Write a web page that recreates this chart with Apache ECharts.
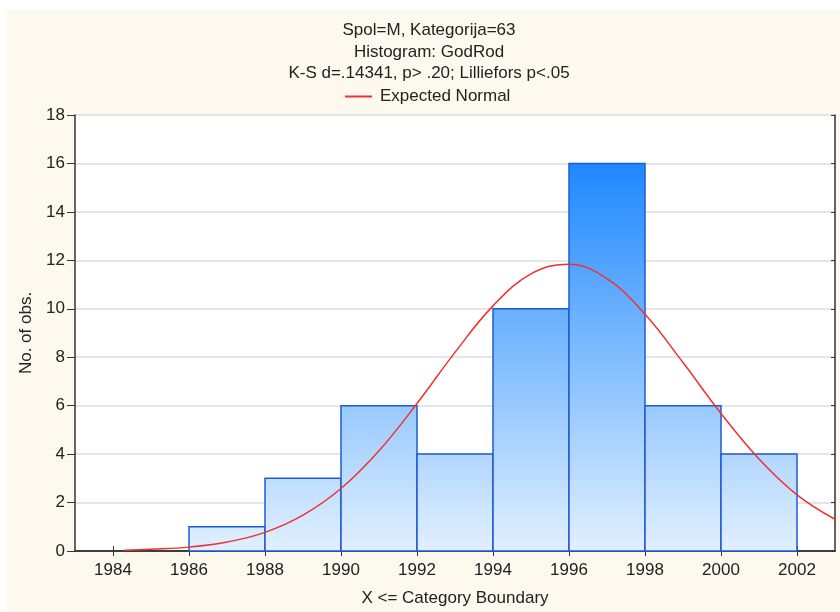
<!DOCTYPE html>
<html>
<head>
<meta charset="utf-8">
<script src="https://cdn.jsdelivr.net/npm/echarts@6/dist/echarts.min.js"></script>
<style>
    html, body {margin: 0; padding: 0; background: #fff;}
    #paper {position: absolute; left: 7px; top: 10px; right: 0; bottom: 0; background: #fef9ef;}
    #chart {position: absolute; left: 0; top: 0; width: 840px; height: 612px;}
</style>
</head>
<body>
<div id="paper"></div>
<div id="chart"></div>
<script>
// histogram bins: [from, to] and counts
const binStarts = [1986, 1988, 1990, 1992, 1994, 1996, 1998, 2000];
const binEnds = [1988, 1990, 1992, 1994, 1996, 1998, 2000, 2002];
const counts = [1, 3, 6, 4, 10, 16, 6, 4];

// expected normal curve
const curveX = [1984.3, 1985, 1986, 1987, 1988, 1989, 1990, 1991, 1992, 1993, 1994, 1995, 1996, 1997, 1998, 1999, 2000, 2001, 2002, 2003];
const curveY = [0.03, 0.07, 0.16, 0.37, 0.77, 1.48, 2.58, 4.14, 6.09, 8.2, 10.12, 11.44, 11.84, 11.24, 9.77, 7.78, 5.68, 3.8, 2.32, 1.31];

const xTicks = [1984, 1986, 1988, 1990, 1992, 1994, 1996, 1998, 2000, 2002];

const titleLines = ['Spol=M, Kategorija=63', 'Histogram: GodRod', 'K-S d=.14341, p> .20; Lilliefors p<.05'];

const FONT = '"Liberation Sans", Arial, sans-serif';

const chart = echarts.init(document.getElementById('chart'), null, {renderer: 'canvas'});

const barData = binStarts.map((s, i) => [s, binEnds[i], counts[i]]);
const curveData = curveX.map((x, i) => [x, curveY[i]]);
const maxCount = Math.max(...counts);

function renderBar(params, api) {
    const p0 = api.coord([api.value(0), api.value(2)]);
    const p1 = api.coord([api.value(1), 0]);
    const gTop = api.coord([api.value(0), maxCount])[1];
    return {
        type: 'rect',
        shape: {x: p0[0], y: p0[1], width: p1[0] - p0[0], height: p1[1] - p0[1]},
        style: {
            fill: {
                type: 'linear', x: 0, y: gTop, x2: 0, y2: p1[1], global: true,
                colorStops: [{offset: 0, color: '#1e88ff'}, {offset: 1, color: '#e2f0ff'}]
            },
            stroke: '#1f5ad6',
            lineWidth: 1.5
        }
    };
}

const axisLine = {show: true, lineStyle: {color: '#333', width: 1.5}};

chart.setOption({
    animation: false,
    textStyle: {fontFamily: FONT},
    title: {
        text: titleLines.join('\n'),
        left: 429,
        textAlign: 'center',
        top: 20,
        padding: 0,
        textStyle: {fontFamily: FONT, fontSize: 17, fontWeight: 'normal', color: '#222', lineHeight: 21.5}
    },
    legend: {
        data: ['Expected Normal'],
        left: 345,
        top: 88,
        padding: 0,
        itemWidth: 27,
        itemHeight: 2,
        itemGap: 8,
        icon: 'rect',
        textStyle: {fontFamily: FONT, fontSize: 17, color: '#222', padding: [0, 0, 0, 3]}
    },
    grid: {
        left: 75, right: 5, top: 115, bottom: 58,
        show: true, backgroundColor: '#fff', borderWidth: 0
    },
    xAxis: [{
        type: 'value',
        min: 1983,
        max: 2003,
        position: 'bottom',
        name: 'X <= Category Boundary',
        nameLocation: 'middle',
        nameGap: 39,
        nameTextStyle: {fontFamily: FONT, fontSize: 17, color: '#222'},
        axisLine: axisLine,
        axisTick: {show: true, inside: true, length: 5, customValues: xTicks, lineStyle: {color: '#333'}},
        axisLabel: {customValues: xTicks, formatter: v => String(v), fontFamily: FONT, fontSize: 17, color: '#222', margin: 11},
        splitLine: {show: false}
    }, {
        type: 'value',
        min: 1983,
        max: 2003,
        position: 'top',
        axisLine: axisLine,
        axisTick: {show: true, inside: true, length: 5, customValues: xTicks, lineStyle: {color: '#333'}},
        axisLabel: {show: false},
        splitLine: {show: false}
    }],
    yAxis: [{
        type: 'value',
        min: 0,
        max: 18,
        interval: 2,
        position: 'left',
        name: 'No. of obs.',
        nameLocation: 'middle',
        nameGap: 40,
        nameTextStyle: {fontFamily: FONT, fontSize: 17, color: '#222'},
        axisLine: axisLine,
        axisTick: {show: true, length: 8, lineStyle: {color: '#333'}},
        axisLabel: {fontFamily: FONT, fontSize: 17, color: '#222', margin: 10},
        splitLine: {show: true, lineStyle: {color: '#dcdcdc', width: 1.5}}
    }, {
        type: 'value',
        min: 0,
        max: 18,
        interval: 2,
        position: 'right',
        axisLine: axisLine,
        axisTick: {show: true, inside: true, length: 4, lineStyle: {color: '#333'}},
        axisLabel: {show: false},
        splitLine: {show: false}
    }],
    series: [{
        type: 'custom',
        renderItem: renderBar,
        encode: {x: [0, 1], y: 2},
        data: barData,
        z: 2
    }, {
        name: 'Expected Normal',
        type: 'line',
        data: curveData,
        smooth: 0.4,
        showSymbol: false,
        lineStyle: {color: '#f03030', width: 1.5},
        itemStyle: {color: '#f03030'},
        z: 5
    }]
});
</script>
</body>
</html>
